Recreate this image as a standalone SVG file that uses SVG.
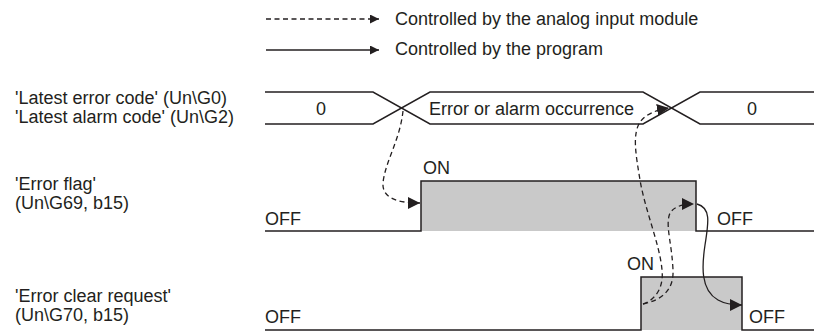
<svg xmlns="http://www.w3.org/2000/svg" width="814" height="331" viewBox="0 0 814 331">
<defs>
<style>
text{font-family:"Liberation Sans",Arial,sans-serif;font-size:18px;fill:#231f20}
.w{fill:none;stroke:#231f20;stroke-width:1.5}
.fill{fill:#c9c9c9;stroke:none}
.d{fill:none;stroke:#231f20;stroke-width:1.3;stroke-dasharray:5 3.5}
.s{fill:none;stroke:#231f20;stroke-width:1.3}
</style>
<marker id="ah" markerUnits="userSpaceOnUse" markerWidth="14" markerHeight="14" refX="12" refY="6" orient="auto"><path d="M0,0 L12,6 L0,12 z" fill="#231f20"/></marker>
<marker id="ahs" markerUnits="userSpaceOnUse" markerWidth="10" markerHeight="10" refX="9" refY="4.5" orient="auto"><path d="M0,0 L9,4.5 L0,9 z" fill="#231f20"/></marker>
</defs>
<g id="legend">
<path class="d" d="M266,19 H379" marker-end="url(#ahs)"/>
<text x="395" y="25">Controlled by the analog input module</text>
<path class="s" d="M266,50 H379" marker-end="url(#ahs)"/>
<text x="395" y="55">Controlled by the program</text>
</g>
<g id="labels">
<text x="15" y="104">'Latest error code' (Un\G0)</text>
<text x="15" y="123">'Latest alarm code' (Un\G2)</text>
<text x="15" y="190">'Error flag'</text>
<text x="15" y="209">(Un\G69, b15)</text>
<text x="15" y="302">'Error clear request'</text>
<text x="15" y="321">(Un\G70, b15)</text>
</g>
<g id="code">
<path class="w" d="M265,92 H373 L430,124 H643 L700,92 H814"/>
<path class="w" d="M265,124 H373 L430,92 H643 L700,124 H814"/>
<text x="321" y="115" text-anchor="middle">0</text>
<text x="429" y="115">Error or alarm occurrence</text>
<text x="752" y="115" text-anchor="middle">0</text>
</g>
<g id="error-flag">
<rect class="fill" x="421" y="181" width="275" height="50"/>
<path class="w" d="M265,231 H421 V181 H696 V231 H814"/>
<text x="265" y="225">OFF</text>
<text x="423" y="174">ON</text>
<text x="717" y="225">OFF</text>
</g>
<g id="error-clear">
<rect class="fill" x="641" y="277" width="101" height="53"/>
<path class="w" d="M265,330 H641 V277 H742 V330 H814" stroke-width="2"/>
<text x="265" y="323">OFF</text>
<text x="627" y="270">ON</text>
<text x="749" y="323">OFF</text>
</g>
<g id="connectors">
<path class="d" d="M403,111 C400,140 385,162 383,183 C382,197 395,203 420,203" marker-end="url(#ah)"/>
<path class="d" d="M643,304 C662,300 674,290 673,270 C672,245 666,228 669,216 C671,208 680,204 694,204" marker-end="url(#ah)"/>
<path class="d" d="M643,304 C655,300 664,288 662,270 C660,245 645,210 640,180 C636,155 632,135 640,122 C646,114 656,110 669,108" marker-end="url(#ah)"/>
<path class="s" d="M697,204 C712,208 708,225 705,245 C702,265 700,290 718,300 C725,304 732,305 742,305" marker-end="url(#ah)"/>
</g>
</svg>
